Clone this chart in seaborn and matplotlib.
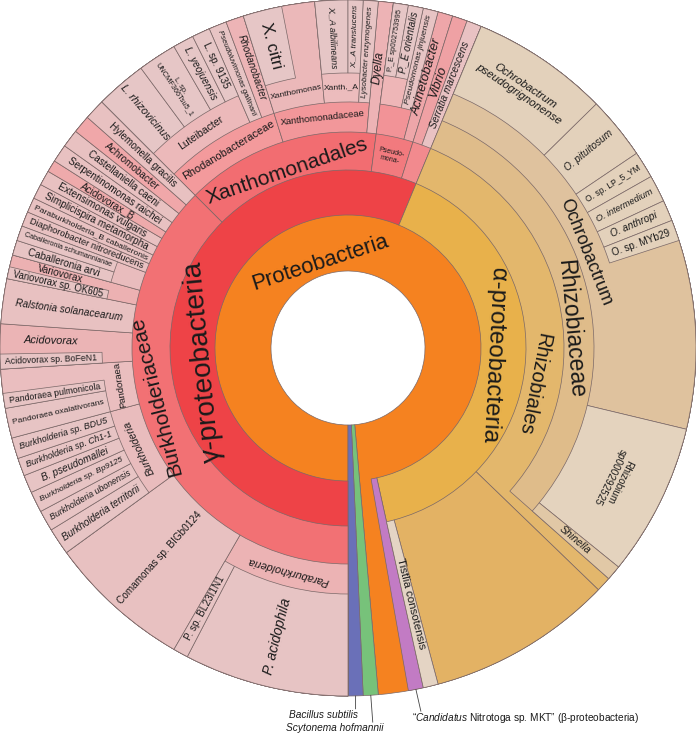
import matplotlib
matplotlib.use("Agg")
import numpy as np
import matplotlib.pyplot as plt
import seaborn as sns
from matplotlib.font_manager import FontProperties

# share of the circle (degrees); a path that ends at a
# parent is the part of that parent not assigned further down
burk_taxa = [
    "Paraburkholderia;P. acidophila", "Paraburkholderia;P. sp. BL23I1N1",
    "Comamonas sp. BIGb0124",
    "Burkholderia;Burkholderia territorii", "Burkholderia;Burkholderia ubonensis",
    "Burkholderia;Burkholderia sp. Bp9125", "Burkholderia;B. pseudomallei",
    "Burkholderia;Burkholderia sp. Ch1-1", "Burkholderia;Burkholderia sp. BDU5",
    "Pandoraea;Pandoraea oxalativorans", "Pandoraea;Pandoraea pulmonicola", "Pandoraea",
    "Acidovorax;Acidovorax sp. BoFeN1", "Acidovorax",
    "Ralstonia solanacearum",
    "Variovorax;Variovorax sp. OK605", "Variovorax",
    "Caballeronia;Caballeronia arvi", "Caballeronia;Caballeronia schumannianae",
    "Diaphorobacter nitroreducens", "Paraburkholderia_B caballeronis",
    "Simplicispira metamorpha", "Extensimonas vulgaris", "Acidovorax_B",
    "Serpentinomonas raichei", "Castellaniella caeni", "Achromobacter",
    "Hylemonella gracilis",
]
burk_share = [27.5, 2.5, 24, 4.5, 3.5, 3.5, 3, 3, 3.5, 5, 2.5, 4, 2.5, 5, 7.5,
              2, 2, 2.5, 2.5, 2.5, 2.5, 2.5, 2.5, 2, 3, 3, 3, 3.5]

xanth_taxa = [
    "Rhodanobacteraceae;Luteibacter;L. rhizovicinus",
    "Rhodanobacteraceae;Luteibacter;L. sp. UNCMF366Tsu5_1",
    "Rhodanobacteraceae;Luteibacter;L. yeojuensis",
    "Rhodanobacteraceae;Luteibacter;L. sp. 9135",
    "Rhodanobacteraceae;Pseudoluvimonas gallinarii",
    "Rhodanobacteraceae;Rhodanobacter",
    "Xanthomonadaceae;Xanthomonas;X. citri", "Xanthomonadaceae;Xanthomonas",
    "Xanthomonadaceae;Xanth._A;X._A albilineans",
    "Xanthomonadaceae;Xanth._A;X._A translucens",
    "Xanthomonadaceae;Lysobacter enzymogenes",
    "Dyella",
]
xanth_share = [8.5, 6.5, 3.5, 3, 3, 3, 6.5, 5.5, 5.5, 2.5, 2.5, 2.5]

gamma_other_taxa = [
    "Pseudomonadales;Pseudomonadaceae;Pseudomonas_E;P._E sp002753995",
    "Pseudomonadales;Pseudomonadaceae;Pseudomonas_E;P._E orientalis",
    "Pseudomonadales;Pseudomonadaceae;Pseudomonas jinjuensis",
    "Pseudomonadales;Acinetobacter",
    "Enterobacterales;Vibrio",
    "Enterobacterales;Serratia marcescens",
]
gamma_other_share = [2.5, 2.5, 2.5, 2.5, 2.5, 2.5]

alpha_taxa = [
    "Rhizobiales;Rhizobiaceae;Ochrobactrum;Ochrobactrum pseudogrignonense",
    "Rhizobiales;Rhizobiaceae;Ochrobactrum;O. pituitosum",
    "Rhizobiales;Rhizobiaceae;Ochrobactrum;O. sp. LP_5_YM",
    "Rhizobiales;Rhizobiaceae;Ochrobactrum;O. intermedium",
    "Rhizobiales;Rhizobiaceae;Ochrobactrum;O. anthropi",
    "Rhizobiales;Rhizobiaceae;Ochrobactrum;O. sp. MYb29",
    "Rhizobiales;Rhizobiaceae;Ochrobactrum",
    "Rhizobiales;Rhizobiaceae;Rhizobium sp000292525",
    "Rhizobiales;Rhizobiaceae;Shinella",
    "Rhizobiales",
    "other α",
    "Tistlia consotensis",
]
alpha_share = [23, 10.5, 4.5, 4.5, 3.5, 3.5, 31.5, 25.5, 2.5, 2.5, 31, 2.5]

other_taxa = ["Proteobacteria;β-proteobacteria", "Proteobacteria",
              "Scytonema hofmannii", "Bacillus subtilis"]
other_share = [2.5, 5, 2.5, 2.5]

GAMMA = "Proteobacteria;γ-proteobacteria"
groups = [
    (GAMMA + ";Burkholderiaceae", burk_taxa, burk_share),
    (GAMMA + ";Xanthomonadales", xanth_taxa, xanth_share),
    (GAMMA, gamma_other_taxa, gamma_other_share),
    ("Proteobacteria;α-proteobacteria", alpha_taxa, alpha_share),
    ("", other_taxa, other_share),
]

# ---- styling ----
RADII = [0, 77, 133, 178, 216, 246, 275]
R_OUT = 348
EDGE = "#7a6868"
DEPTH_COLORS = {1: "#f58220", 2: "#ee4347", 3: "#f27174", 4: "#e8c1c1",
                5: "#e7c4c4", 6: "#e6c6c6"}
COLORS = {
    "α-proteobacteria": "#e8b14b", "β-proteobacteria": "#c27bc4",
    "Scytonema hofmannii": "#77c27a", "Bacillus subtilis": "#6a70b8",
    "Xanthomonadales": "#f26d71", "Pseudomonadales": "#f27a7e",
    "Enterobacterales": "#f28a8e",
    "Rhodanobacteraceae": "#f39a9c", "Xanthomonadaceae": "#f2979a",
    "Pseudomonadaceae": "#f29397", "Dyella": "#edb3b5",
    "Acinetobacter": "#eea6a9", "Vibrio": "#efa1a4", "Serratia marcescens": "#e9c2c3",
    "Luteibacter": "#ecb9ba", "Rhodanobacter": "#edb4b6",
    "Xanthomonas": "#ebb8b9", "Xanth._A": "#ecbcbd", "Pseudomonas_E": "#eeb6b7",
    "Achromobacter": "#f0a7a9", "Acidovorax_B": "#eeaaab", "Acidovorax": "#ebb4b5",
    "Variovorax": "#ecb1b2", "Paraburkholderia": "#ecb3b4", "Pandoraea": "#eabebf",
    "Burkholderia": "#e9bcbd", "Caballeronia": "#e9bcbd",
    "Rhizobiales": "#e3b76c", "other α": "#e3b264", "Rhizobiaceae": "#dfbc8a",
    "Ochrobactrum": "#dfc29e", "Rhizobium sp000292525": "#e4d3be",
    "Shinella": "#e1c8a6", "Tistlia consotensis": "#e4d4c4",
}
for n in ["Ochrobactrum pseudogrignonense", "O. pituitosum", "O. sp. LP_5_YM",
          "O. intermedium", "O. anthropi", "O. sp. MYb29"]:
    COLORS[n] = "#e3d1bb"

NO_LABEL = {"Pseudomonadaceae", "Pseudomonas_E", "Enterobacterales", "Caballeronia",
            "other α", "β-proteobacteria", "Scytonema hofmannii", "Bacillus subtilis"}
DISPLAY = {"Pseudomonadales": "Pseudo-\nmona-",
           "Ochrobactrum pseudogrignonense": "Ochrobactrum\npseudogrignonense",
           "Rhizobium sp000292525": "Rhizobium\nsp000292525",
           "L. sp. UNCMF366Tsu5_1": "L. sp.\nUNCMF366Tsu5_1"}
TANGENTIAL = {"Proteobacteria", "γ-proteobacteria", "α-proteobacteria", "Xanthomonadales",
              "Burkholderiaceae", "Rhizobiales", "Rhizobiaceae", "Ochrobactrum",
              "Rhodanobacteraceae", "Xanthomonadaceae", "Luteibacter", "Xanthomonas",
              "Xanth._A", "Pseudomonadales", "Paraburkholderia", "Pandoraea",
              "Burkholderia", "Rhizobium sp000292525", "Ochrobactrum pseudogrignonense"}
ITALIC = {"Paraburkholderia", "Burkholderia", "Burkholderia territorii",
          "Burkholderia ubonensis", "Burkholderia sp. Bp9125", "B. pseudomallei",
          "Burkholderia sp. Ch1-1", "Burkholderia sp. BDU5", "Ralstonia solanacearum",
          "Acidovorax", "L. rhizovicinus", "L. yeojuensis", "Pseudoluvimonas gallinarii",
          "Rhodanobacter", "X._A albilineans", "X._A translucens", "Lysobacter enzymogenes",
          "Dyella", "Pseudomonas jinjuensis", "Acinetobacter", "Vibrio",
          "Serratia marcescens", "Ochrobactrum pseudogrignonense", "O. pituitosum",
          "O. intermedium", "O. anthropi", "Shinella", "P._E orientalis", "P. acidophila"}
LABEL_PX = {"Proteobacteria": 22, "γ-proteobacteria": 28, "α-proteobacteria": 24,
            "Xanthomonadales": 21, "Burkholderiaceae": 21, "Rhizobiales": 20,
            "Rhizobiaceae": 23, "Ochrobactrum": 18, "Rhodanobacteraceae": 11,
            "Xanthomonadaceae": 9.5, "Luteibacter": 10.5, "Xanthomonas": 8.5,
            "Xanth._A": 8.5, "Pseudomonadales": 7, "Paraburkholderia": 11,
            "Burkholderia": 10.5, "Pandoraea": 9.5, "X. citri": 17, "P. acidophila": 14,
            "Dyella": 12, "Acinetobacter": 13, "Vibrio": 13, "L. rhizovicinus": 11,
            "Ochrobactrum pseudogrignonense": 11.5, "Tistlia consotensis": 11.5,
            "Shinella": 10.5, "Rhizobium sp000292525": 10, "Acidovorax": 11}
LABEL_POS = {"Proteobacteria": (342, 90), "γ-proteobacteria": (264.5, 145),
             "α-proteobacteria": (93, 146), "Xanthomonadales": (341, 187),
             "Burkholderiaceae": (256, 198), "Rhizobiales": (101, 189),
             "Rhizobiaceae": (85, 224), "Ochrobactrum": (68, 256)}
FONT = "Liberation Sans"

sns.set_style("white")
plt.rcParams["font.family"] = [FONT, "DejaVu Sans"]
plt.rcParams["mathtext.fontset"] = "custom"
plt.rcParams["mathtext.rm"] = FONT
plt.rcParams["mathtext.it"] = FONT + ":italic"

# ---- build the tree ----
nodes = {(): {"value": 0.0, "kids": []}}
for prefix, taxa, share in groups:
    for taxon, v in zip(taxa, share):
        path = tuple(p for p in (prefix + ";" + taxon).split(";") if p)
        for i in range(len(path) + 1):
            key = path[:i]
            if key not in nodes:
                nodes[key] = {"value": 0.0, "kids": []}
                nodes[key[:-1]]["kids"].append(key)
            nodes[key]["value"] += v

scale = 360.0 / nodes[()]["value"]


def place(key, start):
    node = nodes[key]
    node["start"] = start
    node["span"] = node["value"] * scale
    for kid in node["kids"]:
        place(kid, start)
        start += nodes[kid]["span"]


place((), 180.0)

W, H = 696, 736
fig = plt.figure(figsize=(W / 100, H / 100), dpi=100)
ax = fig.add_axes([0, (H - W) / H, 1, W / H], projection="polar")
ax.set_theta_zero_location("N")
ax.set_theta_direction(-1)
ax.set_ylim(0, R_OUT)
ax.set_axis_off()

for key in sorted([k for k in nodes if k], key=len):
    node = nodes[key]
    r0 = RADII[len(key)]
    ax.bar(np.deg2rad(node["start"] + node["span"] / 2), R_OUT - r0,
           width=np.deg2rad(node["span"]), bottom=r0,
           color=COLORS.get(key[-1], DEPTH_COLORS[len(key)]),
           edgecolor=EDGE, linewidth=0.5, clip_on=False)

renderer = fig.canvas.get_renderer()


def text_length(txt, px, italic):
    fp = FontProperties(family=FONT, style="italic" if italic else "normal", size=px * 0.72)
    return max(renderer.get_text_width_height_descent(line, fp, ismath=False)[0]
               for line in txt.split("\n"))


for key in sorted([k for k in nodes if k], key=len):
    name = key[-1]
    if name in NO_LABEL:
        continue
    node = nodes[key]
    d = len(key)
    txt = DISPLAY.get(name, name)
    italic = name in ITALIC
    nl = txt.count("\n") + 1
    px = LABEL_PX.get(name, 10)
    if name in TANGENTIAL:
        r0 = RADII[d]
        r1 = RADII[d + 1] if node["kids"] else R_OUT
        theta = node["start"] + node["span"] / 2
        rc = (r0 + r1) / 2
        avail = 2 * rc * np.sin(np.deg2rad(min(node["span"], 150)) / 2) * 0.92
        thick = (r1 - r0) * 0.9
    else:
        if node["kids"]:
            used = sum(nodes[c]["span"] for c in node["kids"])
            a0, aspan, r0 = node["start"] + used, node["span"] - used, RADII[d + 1]
        else:
            a0, aspan, r0 = node["start"], node["span"], RADII[d]
        theta = a0 + aspan / 2
        rc = (r0 + R_OUT) / 2
        avail = R_OUT - r0 - 10
        thick = rc * np.deg2rad(aspan) * 1.1
    if name not in LABEL_PX:
        px = min(px, thick / nl)
        length = text_length(txt, px, italic)
        if length > avail:
            px *= avail / length
    if name in LABEL_POS:
        theta, rc = LABEL_POS[name]
    if name in TANGENTIAL:
        rot = -theta
    else:
        rot = 90 - theta if theta % 360 < 180 else 270 - theta
    ax.text(np.deg2rad(theta), rc, txt, rotation=rot, rotation_mode="anchor",
            ha="center", va="center", multialignment="center",
            fontsize=px * 0.72, fontstyle="italic" if italic else "normal",
            color="#1a1a1a", linespacing=1.05)

# call-outs for the thin slices at the bottom
line_kw = dict(arrowstyle="-", color="#444444", lw=0.6, shrinkA=0, shrinkB=0)
for key, off in [(("Bacillus subtilis",), (0, -13)),
                 (("Scytonema hofmannii",), (2, -27)),
                 (("Proteobacteria", "β-proteobacteria"), (5, -22))]:
    node = nodes[key]
    ax.annotate("", xy=(np.deg2rad(node["start"] + node["span"] / 2), R_OUT),
                xytext=off, textcoords="offset pixels", arrowprops=line_kw,
                annotation_clip=False)

fig.text(358 / W, 21 / H, "Bacillus subtilis", ha="right", va="center",
         fontsize=7.3, fontstyle="italic", color="#1a1a1a")
fig.text(383 / W, 8 / H, "Scytonema hofmannii", ha="right", va="center",
         fontsize=7.3, fontstyle="italic", color="#1a1a1a")
fig.text(412 / W, 18 / H, "“$\\mathit{Candidatus}$ Nitrotoga sp. MKT” (β-proteobacteria)",
         ha="left", va="center", fontsize=7.3, color="#1a1a1a")

fig.savefig("out.png", dpi=100)
